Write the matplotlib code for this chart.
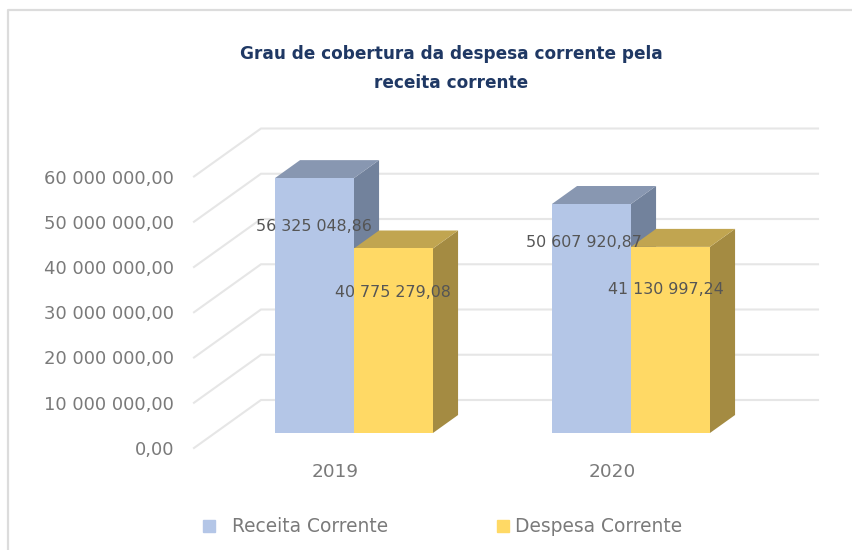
import matplotlib
matplotlib.use("Agg")
import matplotlib.pyplot as plt
from matplotlib.patches import Patch
from matplotlib.lines import Line2D

categories = ["2019", "2020"]
series_names = ["Receita Corrente", "Despesa Corrente"]
receita = [56325048.86, 50607920.87]
despesa = [40775279.08, 41130997.24]
tick_values = [0, 10000000, 20000000, 30000000, 40000000, 50000000, 60000000]
tick_labels = ["0,00", "10 000 000,00", "20 000 000,00", "30 000 000,00",
               "40 000 000,00", "50 000 000,00", "60 000 000,00"]
receita_labels = ["56 325 048,86", "50 607 920,87"]
despesa_labels = ["40 775 279,08", "41 130 997,24"]

W, H = 853, 550
FONT = "DejaVu Sans"
TXT = "#7a7a7a"
fig = plt.figure(figsize=(W / 100, H / 100), dpi=100)
fig.patch.set_facecolor("white")

fig.add_artist(Line2D([8 / W, 8 / W, 1], [0, 1 - 10 / H, 1 - 10 / H],
                      color="#dcdcdc", lw=1.6, transform=fig.transFigure))

L, R, B, T = 194, 818, 448, 128
ax = fig.add_axes([L / W, 1 - B / H, (R - L) / W, (B - T) / H])
px_per_cat = 277.0
px_per_val = 45.25 / 1e7
ax.set_xlim((L - 354) / px_per_cat, (R - 354) / px_per_cat)
ax.set_ylim(0, (B - T) / px_per_val)
for s in ax.spines.values():
    s.set_visible(False)
ax.patch.set_alpha(0)

dx_floor = 67 / px_per_cat
dy_floor = 48 / px_per_val


def proj(x, v, d):
    return x + d * dx_floor, v + d * dy_floor


GRID = "#e6e6e6"
for v in tick_values:
    x0, y0 = proj(ax.get_xlim()[0], v, 0)
    x1, y1 = proj(ax.get_xlim()[0], v, 1)
    ax.plot([x0, x1, ax.get_xlim()[1]], [y0, y1, y1], color=GRID, lw=1.5,
            solid_joinstyle="miter", zorder=1, clip_on=False)

bar_w = 79 / px_per_cat
shift = 21 / px_per_cat
d0, d1 = 15 / 48, 33 / 48


def bar3d(x_left, value, front, top, side, z):
    x_right = x_left + bar_w
    a = proj(x_left, value, d0)
    b = proj(x_right, value, d0)
    c = proj(x_right, value, d1)
    d = proj(x_left, value, d1)
    e = proj(x_right, 0, d0)
    f = proj(x_right, 0, d1)
    g = proj(x_left, 0, d0)
    ax.fill(*zip(b, c, f, e), color=side, lw=0, zorder=z)
    ax.fill(*zip(a, b, c, d), color=top, lw=0, zorder=z)
    ax.fill(*zip(g, e, b, a), color=front, lw=0, zorder=z + 0.1)


COL_R = ("#b4c6e7", "#8897b1", "#72829c")
COL_D = ("#ffd965", "#c1a550", "#a48b42")
for i in range(len(categories)):
    bar3d(i - bar_w - shift, receita[i], *COL_R, 3 + i)
    bar3d(i - shift, despesa[i], *COL_D, 3.5 + i)

label_frac_r = [0.81, 0.83]
label_frac_d = [0.76, 0.77]
label_dx_px_r = [0, -7]
label_dx_px_d = [0, -5]
floor_y = d0 * dy_floor
for i in range(len(categories)):
    xr = proj(i - bar_w / 2 - shift, 0, d0)[0]
    xd = proj(i + bar_w / 2 - shift, 0, d0)[0]
    ax.text(xr + label_dx_px_r[i] / px_per_cat, floor_y + receita[i] * label_frac_r[i], receita_labels[i],
            ha="center", va="center", fontsize=11.4, color="#555555", family=FONT, zorder=9)
    ax.text(xd + label_dx_px_d[i] / px_per_cat, floor_y + despesa[i] * label_frac_d[i], despesa_labels[i],
            ha="center", va="center", fontsize=11.4, color="#555555", family=FONT, zorder=9)

ax.set_yticks(tick_values, tick_labels, fontsize=13, color=TXT, family=FONT)
ax.set_xticks([i - 19 / px_per_cat for i in range(len(categories))], categories,
              fontsize=13.3, color=TXT, family=FONT)
ax.tick_params(axis="y", length=0, pad=20 * 0.72)
ax.tick_params(axis="x", length=0, pad=15 * 0.72)

fig.suptitle("Grau de cobertura da despesa corrente pela\nreceita corrente",
             x=451 / W, y=1 - 68.5 / H, va="center", ha="center",
             fontsize=12.2, fontweight="bold", color="#1f3864", family=FONT, linespacing=1.85)

fig.legend(handles=[Patch(color=COL_R[0], label=series_names[0])], loc="center left",
           bbox_to_anchor=(203 / W, 1 - 527 / H), borderaxespad=0, borderpad=0, frameon=False,
           handlelength=0.65, handleheight=0.65, handletextpad=0.9,
           prop={"family": FONT, "size": 13.4}, labelcolor=TXT)
fig.legend(handles=[Patch(color=COL_D[0], label=series_names[1])], loc="center left",
           bbox_to_anchor=(497 / W, 1 - 527 / H), borderaxespad=0, borderpad=0, frameon=False,
           handlelength=0.65, handleheight=0.65, handletextpad=0.32,
           prop={"family": FONT, "size": 13.4}, labelcolor=TXT)

fig.savefig("out.png", dpi=100)
